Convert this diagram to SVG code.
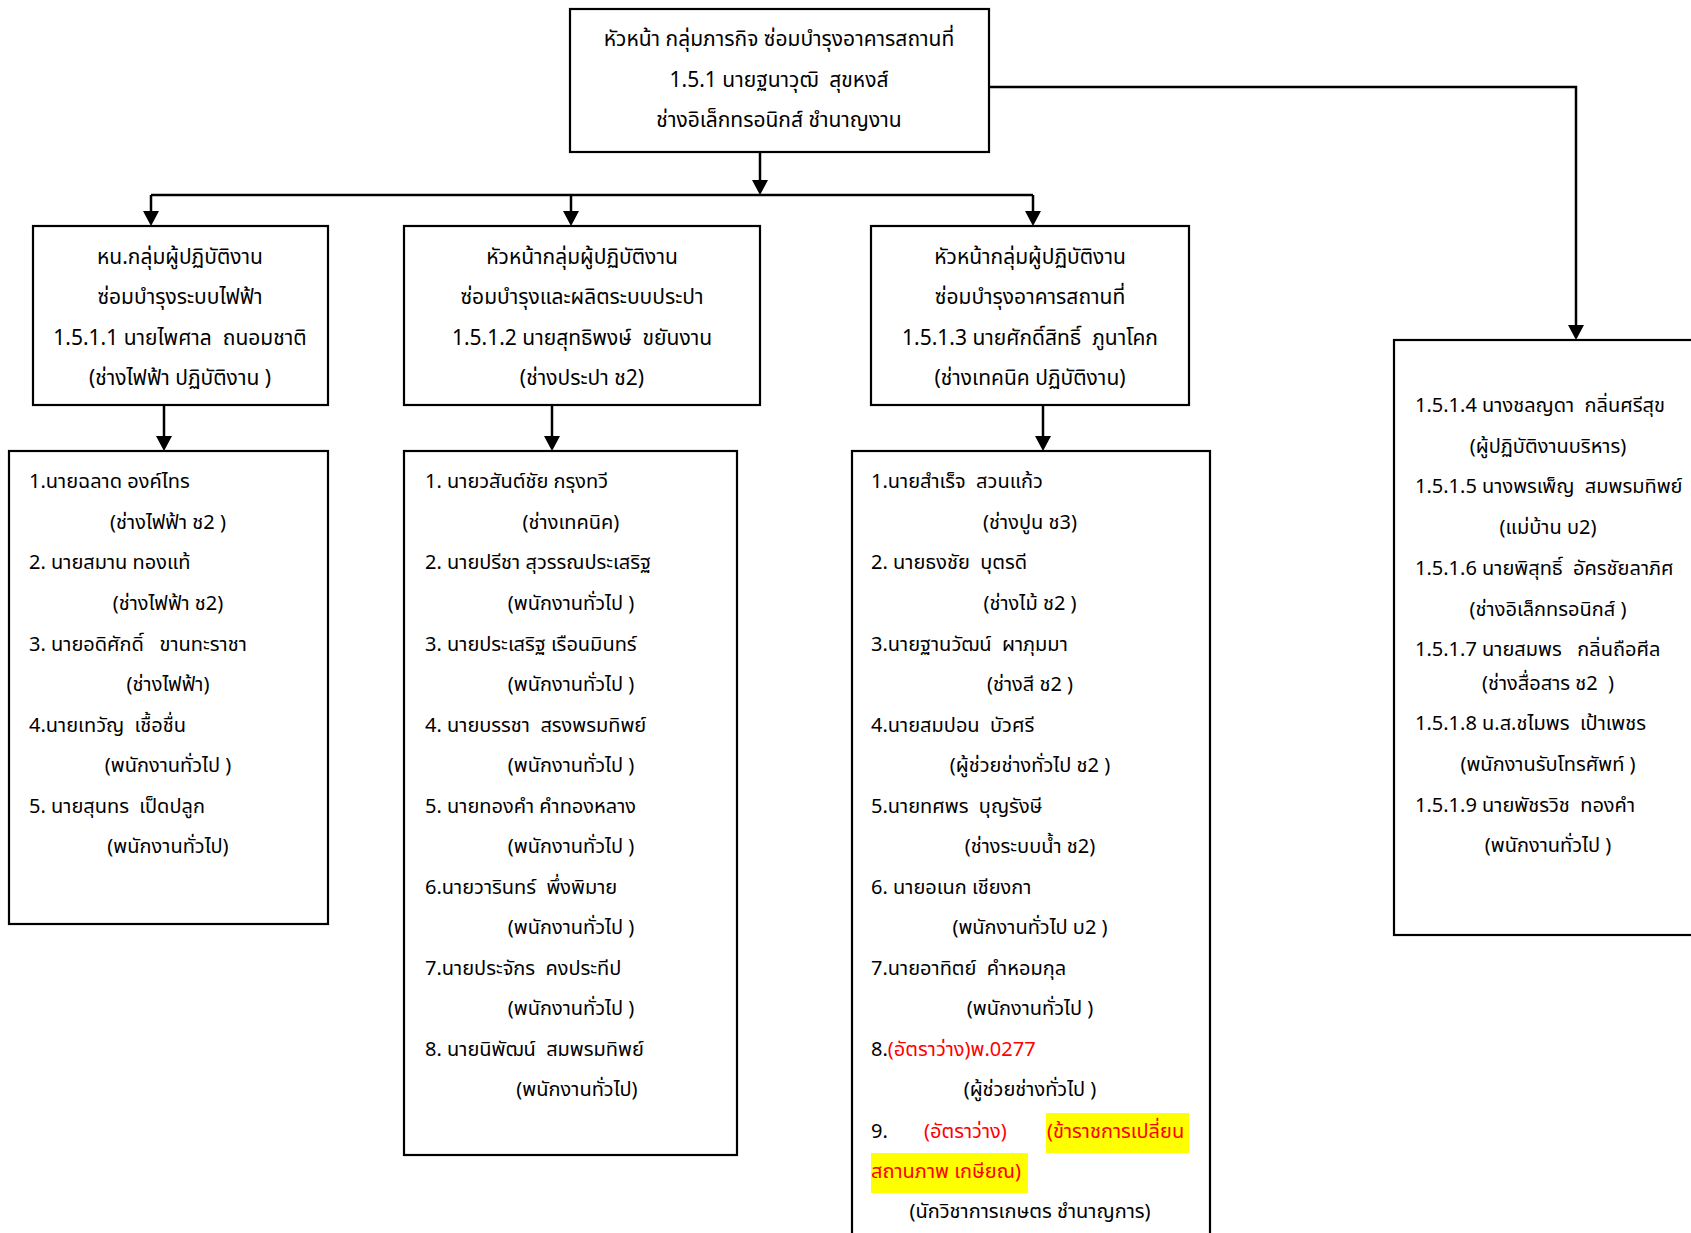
<svg xmlns="http://www.w3.org/2000/svg" width="1691" height="1233" viewBox="0 0 1691 1233">
<defs>
<style>
.box{fill:#fff;stroke:#000;stroke-width:2.2}
.con{fill:none;stroke:#000;stroke-width:2.5}
text{font-family:"Noto Sans Thai","Noto Sans","DejaVu Sans",sans-serif;font-size:20px;fill:#000;white-space:pre}
.h{font-size:21px}
.c{text-anchor:middle}
.red{fill:#f00}
.hl{fill:#ffff00}
</style>
</defs>
<rect width="1691" height="1233" fill="#fff"/>
<g id="connectors">
<path class="con" d="M760,152 V187"/>
<path d="M752,180 L768,180 L760,195 Z"/>
<path class="con" d="M151,195 H1033"/>
<path class="con" d="M151,195 V212"/><path d="M143,211 L159,211 L151,226 Z"/>
<path class="con" d="M571,195 V212"/><path d="M563,211 L579,211 L571,226 Z"/>
<path class="con" d="M1033,195 V212"/><path d="M1025,211 L1041,211 L1033,226 Z"/>
<path class="con" d="M989,87 H1576 V326"/><path d="M1568,325 L1584,325 L1576,340 Z"/>
<path class="con" d="M164,405 V437"/><path d="M156,436 L172,436 L164,451 Z"/>
<path class="con" d="M552,405 V437"/><path d="M544,436 L560,436 L552,451 Z"/>
<path class="con" d="M1043,405 V437"/><path d="M1035,436 L1051,436 L1043,451 Z"/>
</g>
<g id="n-top">
<rect class="box" x="570" y="9" width="419" height="143"/>
<text class="c h" x="779" y="46">หัวหน้า กลุ่มภารกิจ ซ่อมบำรุงอาคารสถานที่</text>
<text class="c h" x="779" y="87">1.5.1 นายฐนาวุฒิ  สุขหงส์</text>
<text class="c h" x="779" y="127">ช่างอิเล็กทรอนิกส์ ชำนาญงาน</text>
</g>
<g id="n-g1">
<rect class="box" x="33" y="226" width="295" height="179"/>
<text class="c h" x="180" y="264">หน.กลุ่มผู้ปฏิบัติงาน</text>
<text class="c h" x="180" y="304">ซ่อมบำรุงระบบไฟฟ้า</text>
<text class="c h" x="180" y="345">1.5.1.1 นายไพศาล  ถนอมชาติ</text>
<text class="c h" x="180" y="385">(ช่างไฟฟ้า ปฏิบัติงาน )</text>
</g>
<g id="n-g2">
<rect class="box" x="404" y="226" width="356" height="179"/>
<text class="c h" x="582" y="264">หัวหน้ากลุ่มผู้ปฏิบัติงาน</text>
<text class="c h" x="582" y="304">ซ่อมบำรุงและผลิตระบบประปา</text>
<text class="c h" x="582" y="345">1.5.1.2 นายสุทธิพงษ์  ขยันงาน</text>
<text class="c h" x="582" y="385">(ช่างประปา ช2)</text>
</g>
<g id="n-g3">
<rect class="box" x="871" y="226" width="318" height="179"/>
<text class="c h" x="1030" y="264">หัวหน้ากลุ่มผู้ปฏิบัติงาน</text>
<text class="c h" x="1030" y="304">ซ่อมบำรุงอาคารสถานที่</text>
<text class="c h" x="1030" y="345">1.5.1.3 นายศักดิ์สิทธิ์  ภูนาโคก</text>
<text class="c h" x="1030" y="385">(ช่างเทคนิค ปฏิบัติงาน)</text>
</g>
<g id="n-staff1">
<rect class="box" x="9" y="451" width="319" height="473"/>
<text x="29" y="488">1.นายฉลาด องค์ไทร</text>
<text class="c" x="168" y="529">(ช่างไฟฟ้า ช2 )</text>
<text x="29" y="569">2. นายสมาน ทองแท้</text>
<text class="c" x="168" y="610">(ช่างไฟฟ้า ช2)</text>
<text x="29" y="651">3. นายอดิศักดิ์   ขานทะราชา</text>
<text class="c" x="168" y="691">(ช่างไฟฟ้า)</text>
<text x="29" y="732">4.นายเทวัญ  เชื้อชื่น</text>
<text class="c" x="168" y="772">(พนักงานทั่วไป )</text>
<text x="29" y="813">5. นายสุนทร  เป็ดปลูก</text>
<text class="c" x="168" y="853">(พนักงานทั่วไป)</text>
</g>
<g id="n-staff2">
<rect class="box" x="404" y="451" width="333" height="704"/>
<text x="425" y="488">1. นายวสันต์ชัย กรุงทวี</text>
<text class="c" x="571" y="529">(ช่างเทคนิค)</text>
<text x="425" y="569">2. นายปรีชา สุวรรณประเสริฐ</text>
<text class="c" x="571" y="610">(พนักงานทั่วไป )</text>
<text x="425" y="651">3. นายประเสริฐ เรือนมินทร์</text>
<text class="c" x="571" y="691">(พนักงานทั่วไป )</text>
<text x="425" y="732">4. นายบรรชา  สรงพรมทิพย์</text>
<text class="c" x="571" y="772">(พนักงานทั่วไป )</text>
<text x="425" y="813">5. นายทองคำ คำทองหลาง</text>
<text class="c" x="571" y="853">(พนักงานทั่วไป )</text>
<text x="425" y="894">6.นายวารินทร์  พึ่งพิมาย</text>
<text class="c" x="571" y="934">(พนักงานทั่วไป )</text>
<text x="425" y="975">7.นายประจักร  คงประทีป</text>
<text class="c" x="571" y="1015">(พนักงานทั่วไป )</text>
<text x="425" y="1056">8. นายนิพัฒน์  สมพรมทิพย์</text>
<text class="c" x="577" y="1096">(พนักงานทั่วไป)</text>
</g>
<g id="n-staff3">
<rect class="box" x="852" y="451" width="358" height="800"/>
<text x="871" y="488">1.นายสำเร็จ  สวนแก้ว</text>
<text class="c" x="1030" y="529">(ช่างปูน ช3)</text>
<text x="871" y="569">2. นายธงชัย  บุตรดี</text>
<text class="c" x="1030" y="610">(ช่างไม้ ช2 )</text>
<text x="871" y="651">3.นายฐานวัฒน์  ผาภุมมา</text>
<text class="c" x="1030" y="691">(ช่างสี ช2 )</text>
<text x="871" y="732">4.นายสมปอน  บัวศรี</text>
<text class="c" x="1030" y="772">(ผู้ช่วยช่างทั่วไป ช2 )</text>
<text x="871" y="813">5.นายทศพร  บุญรังษี</text>
<text class="c" x="1030" y="853">(ช่างระบบน้ำ ช2)</text>
<text x="871" y="894">6. นายอเนก เชียงกา</text>
<text class="c" x="1030" y="934">(พนักงานทั่วไป บ2 )</text>
<text x="871" y="975">7.นายอาทิตย์  คำหอมกุล</text>
<text class="c" x="1030" y="1015">(พนักงานทั่วไป )</text>
<text x="871" y="1056">8.<tspan class="red">(อัตราว่าง)พ.0277</tspan></text>
<text class="c" x="1030" y="1096">(ผู้ช่วยช่างทั่วไป )</text>
<rect class="hl" x="1046" y="1113" width="143" height="40"/>
<rect class="hl" x="871" y="1153" width="157" height="40"/>
<text x="871" y="1138">9.</text>
<text class="red" x="924" y="1138">(อัตราว่าง)</text>
<text class="red" x="1047" y="1138">(ข้าราชการเปลี่ยน</text>
<text class="red" x="871" y="1178">สถานภาพ เกษียณ)</text>
<text class="c" x="1030" y="1218">(นักวิชาการเกษตร ชำนาญการ)</text>
</g>
<g id="n-staff4">
<rect class="box" x="1394" y="340" width="310" height="595"/>
<text x="1415" y="412">1.5.1.4 นางชลญดา  กลิ่นศรีสุข</text>
<text class="c" x="1548" y="453">(ผู้ปฏิบัติงานบริหาร)</text>
<text x="1415" y="493">1.5.1.5 นางพรเพ็ญ  สมพรมทิพย์</text>
<text class="c" x="1548" y="534">(แม่บ้าน บ2)</text>
<text x="1415" y="575">1.5.1.6 นายพิสุทธิ์  อัครชัยลาภิศ</text>
<text class="c" x="1548" y="616">(ช่างอิเล็กทรอนิกส์ )</text>
<text x="1415" y="656">1.5.1.7 นายสมพร   กลิ่นถือศีล</text>
<text class="c" x="1548" y="690">(ช่างสื่อสาร ช2  )</text>
<text x="1415" y="730">1.5.1.8 น.ส.ชไมพร  เป้าเพชร</text>
<text class="c" x="1548" y="771">(พนักงานรับโทรศัพท์ )</text>
<text x="1415" y="812">1.5.1.9 นายพัชรวิช  ทองคำ</text>
<text class="c" x="1548" y="852">(พนักงานทั่วไป )</text>
</g>
</svg>
